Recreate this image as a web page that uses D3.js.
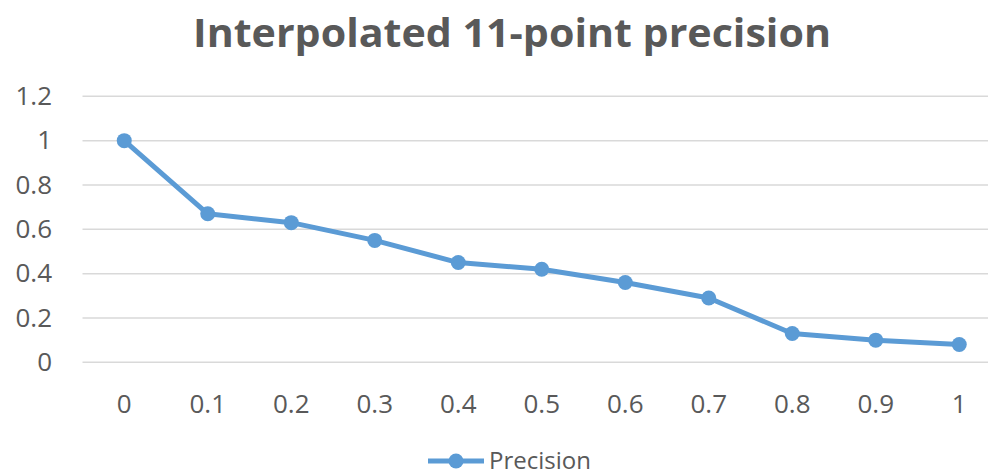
<!DOCTYPE html>
<html>
<head>
<meta charset="utf-8">
<script src="https://cdnjs.cloudflare.com/ajax/libs/d3/7.8.5/d3.min.js"></script>
<style>
    html, body { margin: 0; padding: 0; background: #fff; overflow: hidden; }
    svg { display: block; font-family: "Open Sans", "Noto Sans", sans-serif; }
</style>
</head>
<body>
<div id="chart"></div>
<script>
var recall = ["0", "0.1", "0.2", "0.3", "0.4", "0.5", "0.6", "0.7", "0.8", "0.9", "1"];
var precision = [1, 0.67, 0.63, 0.55, 0.45, 0.42, 0.36, 0.29, 0.13, 0.10, 0.08];
var yTicks = [0, 0.2, 0.4, 0.6, 0.8, 1, 1.2];
var seriesName = "Precision";
var chartTitle = "Interpolated 11-point precision";

var width = 988, height = 476;
var blue = "#5b9bd5", grey = "#595959";

var svg = d3.select("#chart")
    .append("svg")
    .attr("width", width)
    .attr("height", height);

// plot area runs past the right edge, as in the cropped original
var x = d3.scaleBand().domain(recall).range([82.5, 1001]);
var y = d3.scaleLinear().domain([0, 1.2]).range([362.3, 96.3]);

var title = svg.append("text")
    .attr("x", 512)
    .attr("y", 47)
    .attr("text-anchor", "middle")
    .attr("fill", grey)
    .attr("font-size", 40)
    .attr("font-weight", "bold")
    .text(chartTitle);
title.attr("textLength", 638).attr("lengthAdjust", "spacingAndGlyphs");

// gridlines
svg.append("g")
    .attr("class", "grid")
    .selectAll("line")
    .data(yTicks).enter()
    .append("line")
    .attr("x1", 82.5)
    .attr("x2", width)
    .attr("y1", function(d) { return y(d); })
    .attr("y2", function(d) { return y(d); })
    .attr("stroke", "#d9d9d9")
    .attr("stroke-width", 1.5);

// y axis labels
var yAxis = svg.append("g")
    .attr("transform", "translate(52,0)")
    .call(d3.axisLeft(y).tickValues(yTicks).tickSize(0).tickPadding(0)
        .tickFormat(function(d) { return String(+d.toFixed(1)); }));
yAxis.select(".domain").remove();
yAxis.selectAll("text")
    .attr("fill", grey)
    .attr("font-size", 26)
    .attr("font-family", "Open Sans, sans-serif");

// x axis labels
var xAxis = svg.append("g")
    .attr("transform", "translate(0,395)")
    .call(d3.axisBottom(x).tickSize(0).tickPadding(0));
xAxis.select(".domain").remove();
xAxis.selectAll("text")
    .attr("fill", grey)
    .attr("font-size", 26)
    .attr("font-family", "Open Sans, sans-serif");

var cx = function(d, i) { return x(recall[i]) + x.bandwidth() / 2; };

var line = d3.line()
    .x(cx)
    .y(function(d) { return y(d); });

svg.append("path")
    .datum(precision)
    .attr("fill", "none")
    .attr("stroke", blue)
    .attr("stroke-width", 5)
    .attr("stroke-linejoin", "round")
    .attr("d", line);

svg.selectAll("circle.point")
    .data(precision).enter()
    .append("circle")
    .attr("class", "point")
    .attr("cx", cx)
    .attr("cy", function(d) { return y(d); })
    .attr("r", 7.5)
    .attr("fill", blue);

// legend, kept just inside the bottom edge
var legend = svg.append("g").attr("transform", "translate(428,461)");
legend.append("line")
    .attr("x1", 0).attr("x2", 56)
    .attr("stroke", blue)
    .attr("stroke-width", 5);
legend.append("circle")
    .attr("cx", 28)
    .attr("r", 7.5)
    .attr("fill", blue);
legend.append("text")
    .attr("x", 61)
    .attr("y", 8)
    .attr("fill", grey)
    .attr("font-size", 24)
    .text(seriesName);
</script>
</body>
</html>
